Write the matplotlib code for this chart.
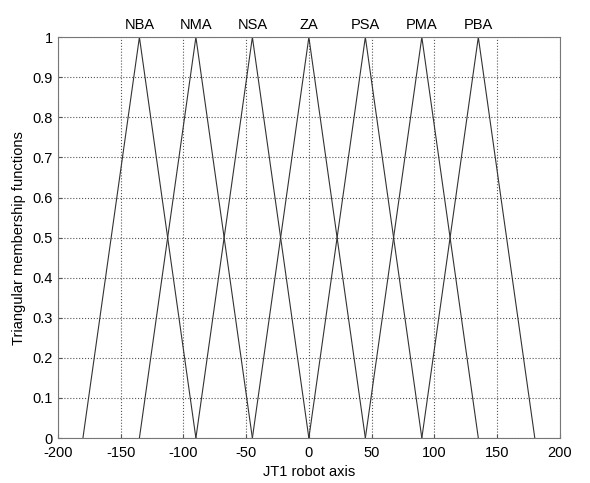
import numpy as np
import matplotlib
matplotlib.use("Agg")
import matplotlib.pyplot as plt

# membership function sets along JT1 axis
labels  = ["NBA", "NMA", "NSA", "ZA", "PSA", "PMA", "PBA"]
centers = [-135, -90, -45, 0, 45, 90, 135]
half_w  = [45, 45, 45, 45, 45, 45, 45]

x_ticks = [-200, -150, -100, -50, 0, 50, 100, 150, 200]
y_ticks = [0, 0.1, 0.2, 0.3, 0.4, 0.5, 0.6, 0.7, 0.8, 0.9, 1]

plt.rcParams["font.family"] = ["Liberation Sans", "DejaVu Sans"]
plt.rcParams["axes.unicode_minus"] = False

fig = plt.figure(figsize=(5.9, 4.83), dpi=100)
ax = fig.add_axes([0.098, 0.093, 0.851, 0.830])

for lab, c, w in zip(labels, centers, half_w):
    ax.plot([c - w, c, c + w], [0, 1, 0], color="#333333", lw=0.8)
    ax.text(c, 1.012, lab, ha="center", va="bottom", fontsize=10.5,
            transform=ax.transData, clip_on=False)

ax.set_xlim(-200, 200)
ax.set_ylim(0, 1)
ax.set_xticks(x_ticks)
ax.set_yticks(y_ticks)
ax.set_yticklabels(["0", "0.1", "0.2", "0.3", "0.4", "0.5", "0.6",
                    "0.7", "0.8", "0.9", "1"])
ax.grid(True, ls=":", color="#555555", lw=0.8)
ax.tick_params(direction="in", length=3, labelsize=10.5, color="#555555")
ax.tick_params(axis="x", pad=6)
for s in ax.spines.values():
    s.set_color("#777777")
    s.set_linewidth(0.8)

ax.set_xlabel("JT1 robot axis", fontsize=10.5, labelpad=3)
ax.set_ylabel("Triangular membership functions", fontsize=10.5, labelpad=5)

fig.savefig("out.png", dpi=100)
